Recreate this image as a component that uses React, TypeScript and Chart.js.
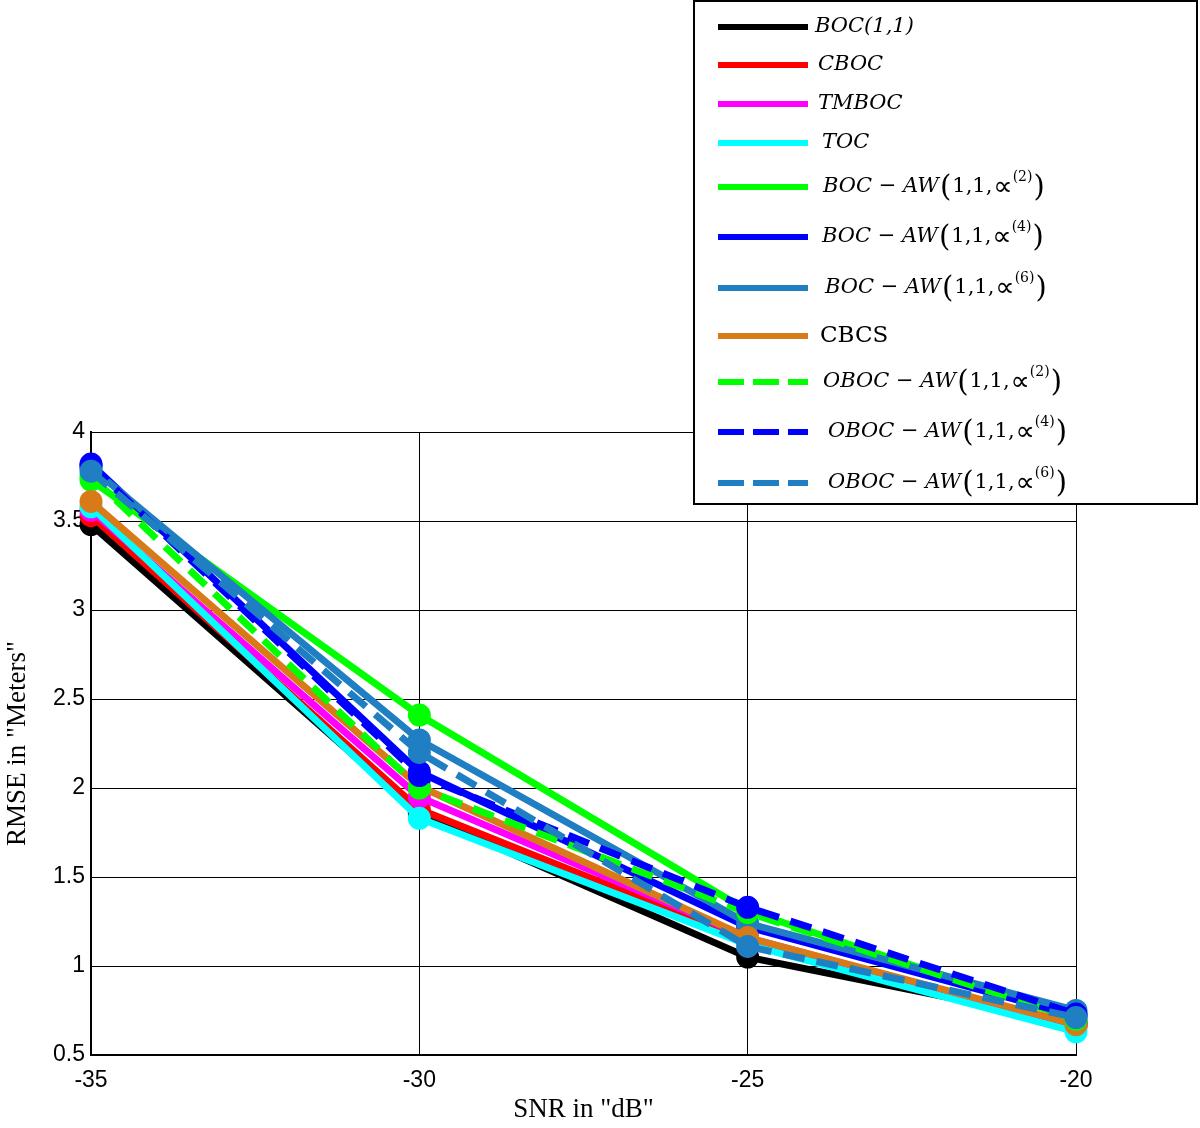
import React, { useEffect, useRef } from "react";
import { Chart, registerables } from "chart.js";
Chart.register(...registerables);

// ---- data ----
const snr = [-35, -30, -25, -20];
const boc11 = [3.48, 1.86, 1.05, 0.68];
const cboc = [3.53, 1.88, 1.14, 0.67];
const tmboc = [3.56, 1.95, 1.16, 0.66];
const toc = [3.58, 1.83, 1.12, 0.63];
const bocAw2 = [3.73, 2.41, 1.31, 0.7];
const bocAw4 = [3.82, 2.09, 1.22, 0.72];
const bocAw6 = [3.8, 2.27, 1.24, 0.75];
const cbcs = [3.61, 2.01, 1.16, 0.67];
const obocAw2 = [3.75, 2.0, 1.3, 0.7];
const obocAw4 = [3.81, 2.07, 1.33, 0.73];
const obocAw6 = [3.78, 2.2, 1.11, 0.71];

const seriesValues = [boc11, cboc, tmboc, toc, bocAw2, bocAw4, bocAw6, cbcs, obocAw2, obocAw4, obocAw6];
const seriesNames = [
  "BOC(1,1)",
  "CBOC",
  "TMBOC",
  "TOC",
  "BOC − AW(1,1,∝^{(2)})",
  "BOC − AW(1,1,∝^{(4)})",
  "BOC − AW(1,1,∝^{(6)})",
  "CBCS",
  "OBOC − AW(1,1,∝^{(2)})",
  "OBOC − AW(1,1,∝^{(4)})",
  "OBOC − AW(1,1,∝^{(6)})",
];
const seriesColors = [
  "#000000",
  "#ff0000",
  "#ff00ff",
  "#00ffff",
  "#00ff00",
  "#0000ff",
  "#1f7fc2",
  "#d97a18",
  "#00ff00",
  "#0000ff",
  "#1f7fc2",
];
const seriesDashed = [false, false, false, false, false, false, false, false, true, true, true];
const seriesItalic = [true, true, true, true, true, true, true, false, true, true, true];

const xTickValues = [-35, -30, -25, -20];
const yTickValues = [0.5, 1, 1.5, 2, 2.5, 3, 3.5, 4];
const xTitle = 'SNR in "dB"';
const yTitle = 'RMSE in "Meters"';

// ---- legend plugin ----
const legendPlugin = {
  id: "boxLegend",
  afterDraw(chart: any) {
    const ctx = chart.ctx as CanvasRenderingContext2D;
    const box = { l: 693, t: 0, r: 1198, b: 505 };
    const rowY = [27, 65, 104, 143, 187, 237, 288, 336, 382, 432, 483];
    const textX = [815, 818, 818, 822, 823, 822, 825, 820, 823, 828, 828];
    ctx.save();
    ctx.fillStyle = "#ffffff";
    ctx.fillRect(box.l, box.t, box.r - box.l, box.b - box.t);
    ctx.strokeStyle = "#000000";
    ctx.lineWidth = 2;
    ctx.strokeRect(box.l + 1, box.t + 1, box.r - box.l - 2, box.b - box.t - 2);
    seriesNames.forEach((name, i) => {
      const y = rowY[i];
      ctx.strokeStyle = seriesColors[i];
      ctx.lineWidth = 6;
      ctx.lineCap = "butt";
      ctx.setLineDash(seriesDashed[i] ? [26, 9] : []);
      ctx.beginPath();
      ctx.moveTo(718, y);
      ctx.lineTo(808, y);
      ctx.stroke();
      ctx.setLineDash([]);
      ctx.fillStyle = "#000000";
      ctx.textBaseline = "middle";
      ctx.textAlign = "left";
      const italic = seriesItalic[i];
      const mainFont = italic ? "italic 21px 'DejaVu Serif', serif" : "23px 'DejaVu Serif', serif";
      const parenFont = "29px 'DejaVu Serif', serif";
      const supFont = "14px 'DejaVu Serif', serif";
      const m = name.match(/^(.*)\((.*)(∝)\^\{(.*)\}\)$/);
      let x = textX[i];
      if (m) {
        ctx.font = mainFont;
        ctx.fillText(m[1], x, y);
        x += ctx.measureText(m[1]).width + 1;
        ctx.font = parenFont;
        ctx.fillText("(", x, y + 1);
        x += ctx.measureText("(").width + 1;
        ctx.font = "21px 'DejaVu Serif', serif";
        ctx.fillText(m[2], x, y);
        x += ctx.measureText(m[2]).width + 1;
        ctx.font = "27px 'DejaVu Sans', sans-serif";
        ctx.fillText(m[3], x, y + 1);
        x += ctx.measureText(m[3]).width;
        ctx.font = supFont;
        ctx.fillText(m[4], x, y - 10);
        x += ctx.measureText(m[4]).width + 1;
        ctx.font = parenFont;
        ctx.fillText(")", x, y + 1);
      } else {
        ctx.font = mainFont;
        ctx.fillText(name, x, y);
      }
    });
    ctx.restore();
  },
};

export default function App() {
  const ref = useRef<HTMLCanvasElement | null>(null);
  useEffect(() => {
    if (!ref.current) return;
    const n = seriesValues.length;
    const chart = new Chart(ref.current, {
      type: "line",
      data: {
        datasets: seriesValues.map((vals, i) => ({
          label: seriesNames[i],
          data: vals.map((v, k) => ({ x: snr[k], y: v })),
          borderColor: seriesColors[i],
          backgroundColor: seriesColors[i],
          pointBackgroundColor: seriesColors[i],
          pointBorderColor: seriesColors[i],
          borderWidth: 7,
          borderDash: seriesDashed[i] ? [22, 12] : [],
          pointRadius: 10,
          pointBorderWidth: 3,
          pointHoverRadius: 10,
          tension: 0,
          fill: false,
          clip: false as any,
          order: n - i,
        })),
      },
      options: {
        animation: false,
        responsive: false,
        events: [],
        layout: { padding: { left: 0, top: 432, right: 124, bottom: 0 } },
        plugins: { legend: { display: false }, tooltip: { enabled: false } },
        scales: {
          x: {
            type: "linear",
            min: -35,
            max: -20,
            afterBuildTicks: (s: any) => {
              s.ticks = xTickValues.map((v) => ({ value: v }));
            },
            afterFit: (s: any) => {
              s.height = 73;
            },
            grid: { color: "#000000", lineWidth: 1, drawTicks: false },
            border: { color: "#000000", width: 2 },
            ticks: {
              color: "#000000",
              padding: 12,
              font: { family: "'Liberation Sans', Arial, sans-serif", size: 23 },
              callback: (v: any) => String(v),
            },
            title: {
              display: true,
              text: xTitle,
              color: "#000000",
              font: { family: "'Liberation Serif', 'Times New Roman', serif", size: 27 },
              padding: { top: 0, bottom: 2 },
            },
          },
          y: {
            type: "linear",
            min: 0.5,
            max: 4,
            afterBuildTicks: (s: any) => {
              s.ticks = yTickValues.map((v) => ({ value: v }));
            },
            afterFit: (s: any) => {
              s.width = 91;
            },
            grid: { color: "#000000", lineWidth: 1, drawTicks: false },
            border: { color: "#000000", width: 2 },
            ticks: {
              color: "#000000",
              padding: 6,
              font: { family: "'Liberation Sans', Arial, sans-serif", size: 23 },
              callback: (v: any) => String(v),
            },
            title: {
              display: true,
              text: yTitle,
              color: "#000000",
              font: { family: "'Liberation Serif', 'Times New Roman', serif", size: 27 },
              padding: { top: 2, bottom: 0 },
            },
          },
        },
      },
      plugins: [legendPlugin],
    });
    return () => chart.destroy();
  }, []);
  return (
    <div style={{ position: "absolute", left: 0, top: 0, width: 1200, height: 1128, background: "#ffffff" }}>
      <canvas ref={ref} width={1200} height={1128} style={{ display: "block" }} />
    </div>
  );
}
